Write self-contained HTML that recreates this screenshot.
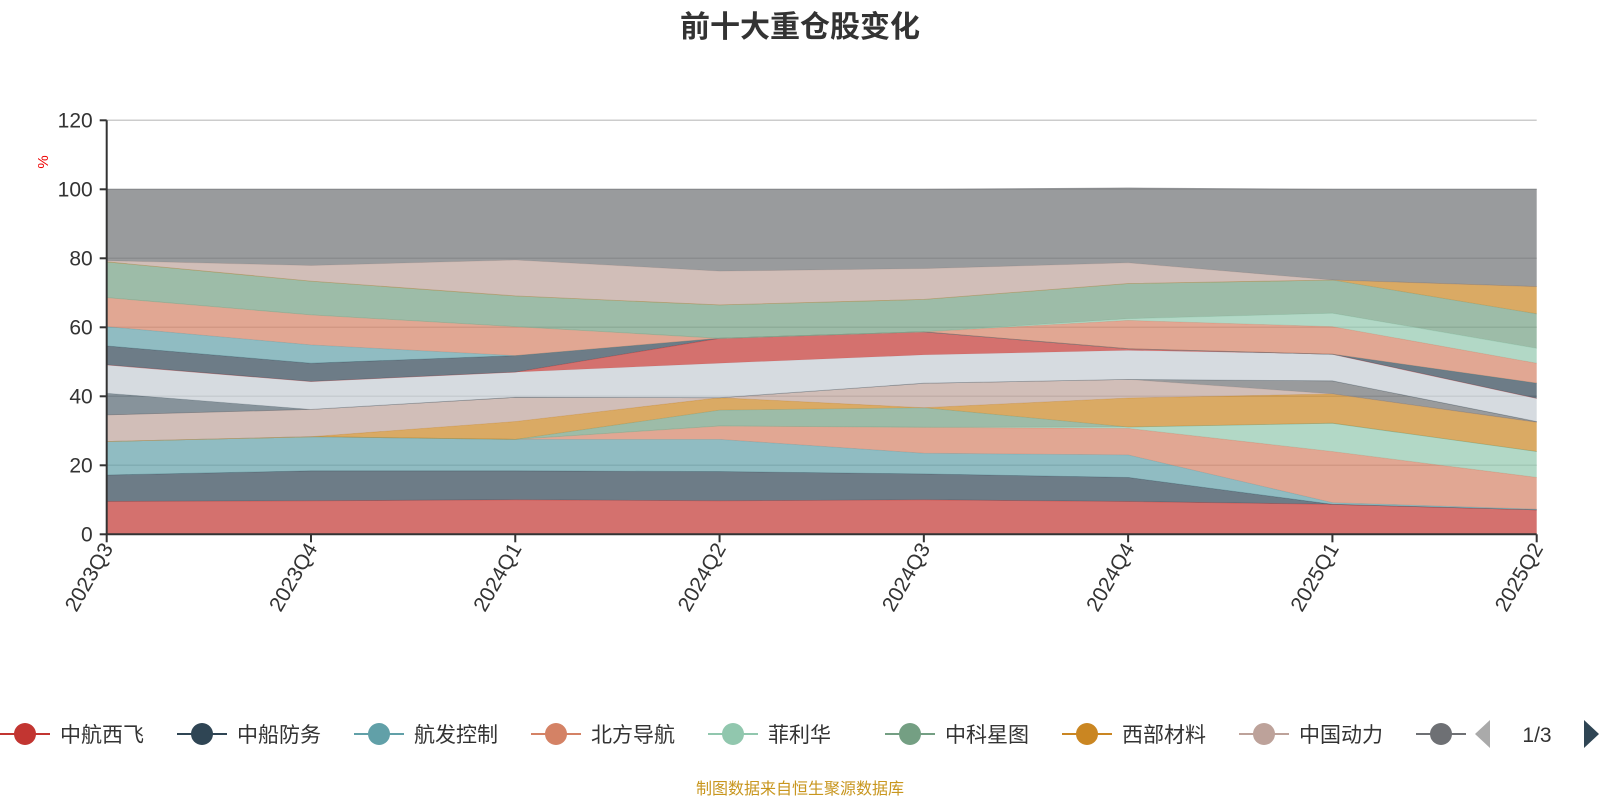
<!DOCTYPE html>
<html><head><meta charset="utf-8"><title>前十大重仓股变化</title>
<style>
html,body{margin:0;padding:0;background:#fff;}
body{width:1600px;height:800px;overflow:hidden;font-family:"Liberation Sans","Noto Sans CJK SC",sans-serif;}
</style></head>
<body>
<svg id="chart" width="1600" height="800" xmlns="http://www.w3.org/2000/svg" font-family="Liberation Sans, Noto Sans CJK SC, sans-serif">
<text x="800" y="37" text-anchor="middle" font-size="30" font-weight="bold" fill="#333">前十大重仓股变化</text>
<text x="0" y="0" transform="translate(48,162) rotate(-90)" text-anchor="middle" font-size="15" fill="#e00">%</text>
<g id="grid"></g>
<g id="areas"></g>
<g id="axes"></g>
<g id="legend"></g>
<text x="800" y="794" text-anchor="middle" font-size="16" fill="#c8961e">制图数据来自恒生聚源数据库</text>
</svg>
<script>
const categories = ["2023Q3","2023Q4","2024Q1","2024Q2","2024Q3","2024Q4","2025Q1","2025Q2"];
const yTicks = [0,20,40,60,80,100,120];
const seriesNames = ["中航西飞","中船防务","航发控制","北方导航","菲利华","中科星图","西部材料","中国动力","航天电器","中航沈飞","中航重机","中航西飞 ","中船防务 ","航发控制 ","北方导航 ","菲利华 ","中科星图 ","西部材料 ","中国动力 ","其他"];
const s0  = [9.5, 9.7, 10, 9.7, 10, 9.5, 8.7, 7.1];
const s1  = [7.7, 8.7, 8.4, 8.5, 7.5, 7, 0, 0];
const s2  = [9.7, 9.9, 9.1, 9.3, 6, 6.5, 0.5, 0.2];
const s3  = [0, 0, 0, 3.9, 7.5, 7.7, 14.8, 9.2];
const s4  = [0, 0, 0, 0, 0, 0.4, 8.2, 7.5];
const s5  = [0, 0, 0, 4.6, 5.7, 0, 0, 0];
const s6  = [0, 0, 5.2, 3.6, 0, 8.4, 8.5, 8.5];
const s7  = [7.7, 7.9, 7, 0, 7.1, 5.4, 0, 0];
const s8  = [0, 0, 0, 0, 0, 0, 3.8, 0.2];
const s9  = [6.3, 0, 0, 0, 0, 0, 0, 0];
const s10 = [8.2, 8.1, 7.3, 10, 8.2, 8.4, 7.7, 6.7];
const s11 = [0, 0, 0, 7.2, 6.7, 0.5, 0, 0];
const s12 = [5.5, 5.3, 4.8, 0, 0, 0, 0, 4.4];
const s13 = [5.6, 5.3, 0, 0, 0, 0, 0, 0];
const s14 = [8.4, 8.7, 8.4, 0, 0, 8.2, 8, 5.8];
const s15 = [0, 0, 0, 0, 0, 0.5, 3.9, 4.3];
const s16 = [10.4, 9.8, 8.9, 9.7, 9.4, 10.2, 9.6, 10];
const s17 = [0, 0, 0, 0, 0, 0, 0, 7.9];
const s18 = [0.3, 4.5, 10.4, 9.8, 8.9, 6, 0, 0];
const s19 = [20.7, 22.1, 20.5, 23.7, 23, 21.7, 26.3, 28.2];
const seriesValues = [s0,s1,s2,s3,s4,s5,s6,s7,s8,s9,s10,s11,s12,s13,s14,s15,s16,s17,s18,s19];
const palette = ['#c23531','#2f4554','#61a0a8','#d48265','#91c7ae','#749f83','#ca8622','#bda29a','#6e7074','#546570','#c4ccd3'];

const NS = "http://www.w3.org/2000/svg";
const X0 = 106.7, X1 = 1536.7, Y0 = 534.3, Y120 = 120.3;
const xScale = i => X0 + i * (X1 - X0) / (categories.length - 1);
const yScale = v => Y0 - v * (Y0 - Y120) / 120;
function mk(tag, attrs, parent){const e=document.createElementNS(NS,tag);for(const k in attrs)e.setAttribute(k,attrs[k]);parent.appendChild(e);return e;}

const grid = document.getElementById('grid');
yTicks.forEach(t=>{ if(t===0) return;
  const l = mk('line',{x1:X0,x2:X1,y1:yScale(t),y2:yScale(t),stroke:'#ccc','stroke-width':1.5},grid);
  
  
});

const areas = document.getElementById('areas');
const cum = categories.map(()=>0);
seriesValues.forEach((vals,si)=>{
  const lower = cum.slice();
  vals.forEach((v,i)=>{cum[i]+=v;});
  const upper = cum.slice();
  let d = '';
  upper.forEach((v,i)=>{d += (i?'L':'M') + xScale(i).toFixed(1) + ',' + yScale(v).toFixed(1);});
  for(let i=lower.length-1;i>=0;i--) d += 'L' + xScale(i).toFixed(1) + ',' + yScale(lower[i]).toFixed(1);
  d += 'Z';
  const c = palette[si % palette.length];
  const p = mk('path',{d:d,fill:c,'fill-opacity':0.7,stroke:'none'},areas);
  
  
  let ld='';
  upper.forEach((v,i)=>{ld += (i?'L':'M') + xScale(i).toFixed(1) + ',' + yScale(v).toFixed(1);});
  const ln = mk('path',{d:ld,fill:'none',stroke:c,'stroke-opacity':0.5,'stroke-width':0.8},areas);
  
  
});

const axes = document.getElementById('axes');
const ya = mk('line',{x1:X0,x2:X0,y1:Y120,y2:Y0,stroke:'#333','stroke-width':2},axes);


yTicks.forEach(t=>{
  const tk = mk('line',{x1:X0-7,x2:X0,y1:yScale(t),y2:yScale(t),stroke:'#333','stroke-width':2},axes);
  
  
  const tx = mk('text',{x:X0-14,y:yScale(t)+7,'text-anchor':'end','font-size':21,fill:'#333'},axes);
  tx.textContent = t;
  
  
});
const xa = mk('line',{x1:X0,x2:X1,y1:Y0,y2:Y0,stroke:'#333','stroke-width':2},axes);


categories.forEach((c,i)=>{
  const x = xScale(i);
  const tk = mk('line',{x1:x,x2:x,y1:Y0,y2:Y0+8,stroke:'#333','stroke-width':2},axes);
  
  
  const tx = mk('text',{x:0,y:0,transform:`translate(${x+7},${Y0+14}) rotate(-60)`,'text-anchor':'end','font-size':21,fill:'#333'},axes);
  tx.textContent = c;
  
  
});

const legend = document.getElementById('legend');
const clip = mk('clipPath',{id:'legclip'},legend);
mk('rect',{x:0,y:700,width:1470,height:60},clip);
const lg = mk('g',{'clip-path':'url(#legclip)'},legend);
const LY = 734;
for(let i=0;i<9;i++){
  const bx = i*177;
  const c = palette[i % palette.length];
  const item = mk('g',{},lg);
  
  
  mk('line',{x1:bx,x2:bx+50,y1:LY,y2:LY,stroke:c,'stroke-width':2},item);
  mk('circle',{cx:bx+25,cy:LY,r:11,fill:c},item);
  const t = mk('text',{x:bx+60,y:LY+8,'font-size':21,fill:'#333'},item);
  t.textContent = seriesNames[i];
}
const prev = mk('path',{d:'M1490,720 L1490,748 L1475,734 Z',fill:'#aaa'},legend);


const pg = mk('text',{x:1537,y:742,'text-anchor':'middle','font-size':21,fill:'#333'},legend);
pg.textContent='1/3';


const next = mk('path',{d:'M1584,720 L1584,748 L1599,734 Z',fill:'#2f4554'},legend);


</script>
</body></html>
